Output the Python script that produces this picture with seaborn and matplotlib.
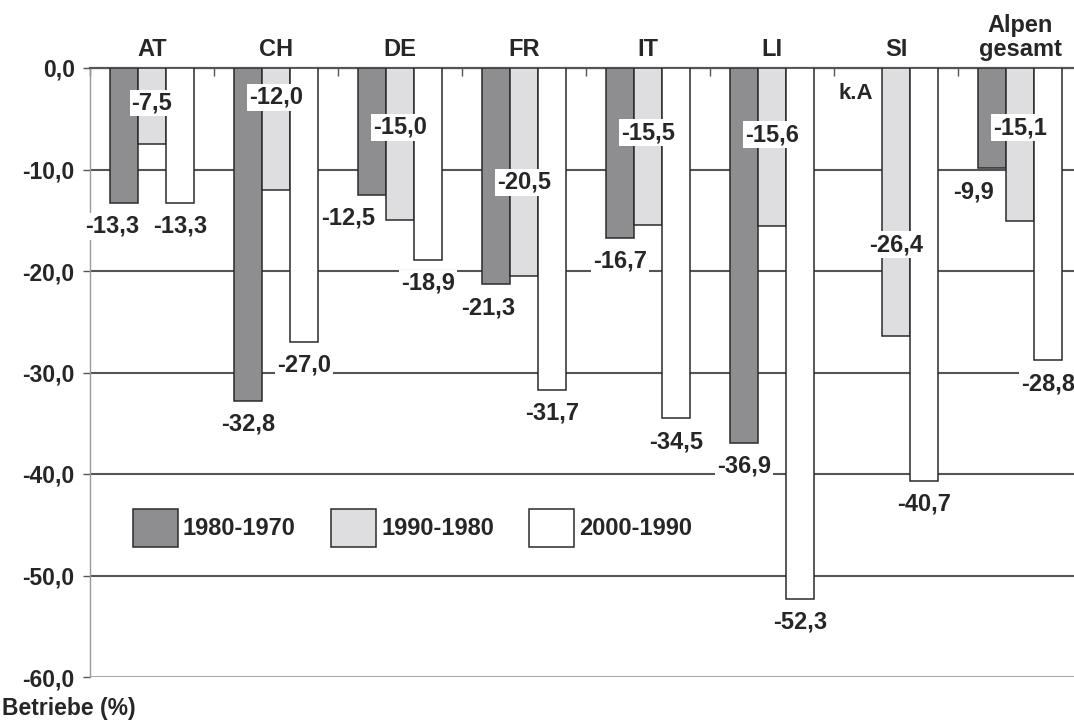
import numpy as np
import pandas as pd
import matplotlib
matplotlib.use("Agg")
import matplotlib.pyplot as plt
import seaborn as sns
from matplotlib.patches import Patch

# Veraenderung der Betriebe (%) je Jahrzehnt
regions = ["AT", "CH", "DE", "FR", "IT", "LI", "SI", "Alpen\ngesamt"]
periods = ["1980-1970", "1990-1980", "2000-1990"]
change_1980_1970 = [-13.3, -32.8, -12.5, -21.3, -16.7, -36.9, np.nan, -9.9]  # SI: k.A
change_1990_1980 = [-7.5, -12.0, -15.0, -20.5, -15.5, -15.6, -26.4, -15.1]
change_2000_1990 = [-13.3, -27.0, -18.9, -31.7, -34.5, -52.3, -40.7, -28.8]
y_ticks = [-60, -50, -40, -30, -20, -10, 0]

colors = ["#8e8e90", "#dedee0", "#ffffff"]
# label placement tweaks (as in the original figure)
dark_dx = [-0.1, 0.0, -0.19, -0.06, 0.0, 0.0, 0.0, -0.15]
light_frac = [0.46, 0.24, 0.39, 0.55, 0.41, 0.42, 0.66, 0.39]

df = pd.DataFrame({
    "Region": regions * 3,
    "Periode": np.repeat(periods, len(regions)),
    "Wert": change_1980_1970 + change_1990_1980 + change_2000_1990,
})

sns.set_style("white")
plt.rcParams["font.family"] = ["Liberation Sans", "DejaVu Sans"]
plt.rcParams["font.weight"] = "bold"
plt.rcParams["font.size"] = 16

fig = plt.figure(figsize=(10.74, 7.24), dpi=100)
ax = fig.add_axes([90 / 1074, 47 / 724, 992 / 1074, 609 / 724])

sns.barplot(data=df, x="Region", y="Wert", hue="Periode", order=regions,
            hue_order=periods, palette=colors, width=0.675, saturation=1,
            edgecolor="#2b2b2b", linewidth=1.1, errorbar=None, legend=False,
            zorder=3, ax=ax)

ax.set_xlim(-0.5, 7.5)
ax.set_ylim(-60, 0)
ax.set_yticks(y_ticks)
ax.set_yticklabels([f"{v:.1f}".replace(".", ",") for v in y_ticks], fontsize=16.5, fontweight="bold")
ax.set_xlabel("")
ax.set_ylabel("")

# category labels on top
ax.xaxis.tick_top()
ax.set_xticks(range(len(regions)))
ax.set_xticklabels(regions, fontsize=17, fontweight="bold", linespacing=1.05)
ax.tick_params(axis="x", which="major", length=0, pad=5, top=True, bottom=False)
ax.set_xticks(np.arange(-0.5, len(regions), 1), minor=True)
ax.tick_params(axis="x", which="minor", direction="in", length=6, width=1,
               color="#555555", top=True, bottom=False)
ax.tick_params(axis="y", left=True, length=5, width=1, color="#555555", pad=6)

ax.set_axisbelow(True)
ax.yaxis.grid(True, color="#555555", linewidth=1.5)
ax.xaxis.grid(False)
ax.get_ygridlines()[0].set_color("#aaaaaa")
for side in ["right", "bottom"]:
    ax.spines[side].set_visible(False)
ax.spines["top"].set_color("#555555")
ax.spines["top"].set_linewidth(1.6)
ax.spines["left"].set_color("#999999")
ax.spines["left"].set_linewidth(1.0)

# value labels
series = [change_1980_1970, change_1990_1980, change_2000_1990]
offsets = [-0.225, 0.0, 0.225]
box = dict(boxstyle="square,pad=0.08", facecolor="white", edgecolor="none")
for k, vals in enumerate(series):
    for i, v in enumerate(vals):
        x = i + offsets[k]
        if np.isnan(v):
            ax.text(x - 0.1, -2.5, "k.A", ha="center", va="center",
                    fontsize=16, fontweight="bold", zorder=5)
            continue
        txt = f"{v:.1f}".replace(".", ",")
        if k == 0:
            pos = (x + dark_dx[i], v - 2.3)
        elif k == 1:
            pos = (x, v * light_frac[i])
        else:
            pos = (x, v - 2.3)
        ax.text(pos[0], pos[1], txt, ha="center", va="center", fontsize=17,
                fontweight="bold", bbox=box, zorder=5)

handles = [Patch(facecolor=c, edgecolor="#2b2b2b", linewidth=1.1) for c in colors]
ax.legend(handles, periods, loc="center left", bbox_to_anchor=(0.043, 0.245),
          ncol=3, frameon=False, handlelength=1.9, handleheight=2.1,
          handletextpad=0.22, columnspacing=1.5, borderpad=0, borderaxespad=0,
          prop={"size": 17, "weight": "bold"})

fig.text(0.002, 0.022, "Betriebe (%)", fontsize=16.5, fontweight="bold", ha="left", va="center")

fig.savefig("out.png", dpi=100)
